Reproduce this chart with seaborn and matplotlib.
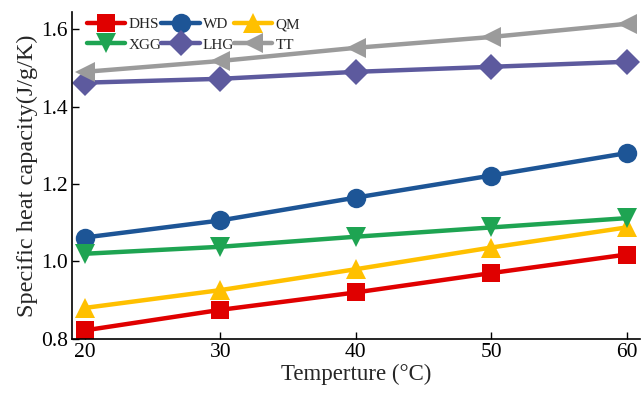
import matplotlib
matplotlib.use("Agg")
import matplotlib.pyplot as plt
import seaborn as sns
import pandas as pd

temperature = [20, 30, 40, 50, 60]
dhs = [0.822, 0.875, 0.920, 0.970, 1.018]
wd = [1.062, 1.106, 1.165, 1.222, 1.280]
qm = [0.880, 0.926, 0.980, 1.036, 1.088]
xgg = [1.020, 1.038, 1.064, 1.088, 1.112]
lhg = [1.462, 1.472, 1.490, 1.503, 1.516]
tt = [1.490, 1.518, 1.552, 1.580, 1.614]

series = {"DHS": dhs, "WD": wd, "QM": qm, "XGG": xgg, "LHG": lhg, "TT": tt}
colors = {"DHS": "#E00000", "WD": "#1D5596", "QM": "#FFC000",
          "XGG": "#1EA452", "LHG": "#5D5A9E", "TT": "#9B9B9B"}
markers = {"DHS": "s", "WD": "o", "QM": "^", "XGG": "v", "LHG": "D", "TT": "<"}
msizes = {"DHS": 12.5, "WD": 14, "QM": 14, "XGG": 14, "LHG": 13, "TT": 14}

rows = []
for name, vals in series.items():
    for t, v in zip(temperature, vals):
        rows.append({"Temperature": t, "Cp": v, "Sample": name})
df = pd.DataFrame(rows)

sns.set_style("ticks")
plt.rcParams["font.family"] = ["Liberation Serif", "DejaVu Serif"]

fig = plt.figure(figsize=(6.42, 3.95), dpi=100)
ax = fig.add_axes([0.112, 0.142, 0.885, 0.828])

for name in series:
    sub = df[df["Sample"] == name]
    sns.lineplot(data=sub, x="Temperature", y="Cp", ax=ax, color=colors[name],
                 marker=markers[name], markersize=msizes[name], linewidth=3.2,
                 markeredgewidth=0, label=name)

ax.set_xlim(19.05, 61.0)
ax.set_ylim(0.8, 1.645)
ax.set_xticks(temperature)
ax.set_yticks([0.8, 1.0, 1.2, 1.4, 1.6])
ax.set_yticklabels(["0.8", "1.0", "1.2", "1.4", "1.6"])
ax.tick_params(direction="in", length=5, width=1, labelsize=15.5, colors="black",
               pad=3)
for s in ["top", "right"]:
    ax.spines[s].set_visible(False)
for s in ["left", "bottom"]:
    ax.spines[s].set_linewidth(1.2)
    ax.spines[s].set_color("black")

ax.set_xlabel("Temperture (\u00b0C)", fontsize=16.5, labelpad=1)
ax.set_ylabel("Specific heat capacity(J/g/K)", fontsize=17.5, labelpad=2)

# legend filled row by row: DHS WD QM / XGG LHG TT
handles, labels = ax.get_legend_handles_labels()
order = ["DHS", "XGG", "WD", "LHG", "QM", "TT"]
idx = [labels.index(n) for n in order]
ax.legend([handles[i] for i in idx], [labels[i] for i in idx],
          loc="upper left", ncol=3, frameon=False, fontsize=11,
          handlelength=2.5, handletextpad=0.2, columnspacing=0.0,
          labelspacing=0.45, borderaxespad=0.0, borderpad=0.0,
          bbox_to_anchor=(0.027, 0.983))

fig.savefig("out.png", dpi=100)
